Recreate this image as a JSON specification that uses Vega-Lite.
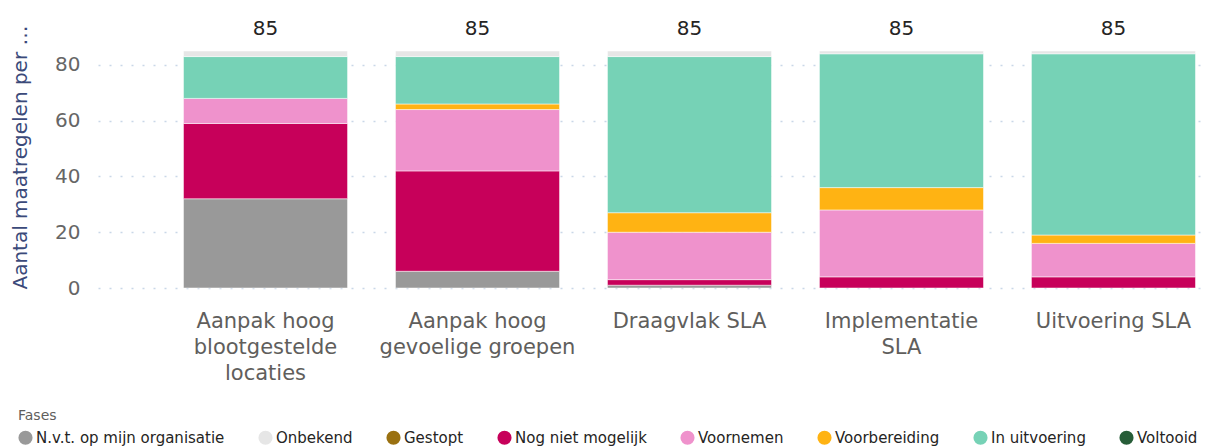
{
  "$schema": "https://vega.github.io/schema/vega-lite/v6.json",
  "width": 1107,
  "height": 237,
  "autosize": "none",
  "padding": {"left": 98, "top": 51, "right": 0, "bottom": 158},
  "background": "white",
  "config": {
    "view": {"stroke": null},
    "font": "DejaVu Sans"
  },
  "data": {
    "values": [
      {"categorie": "Aanpak hoog blootgestelde locaties", "fase": "N.v.t. op mijn organisatie", "aantal": 32},
      {"categorie": "Aanpak hoog blootgestelde locaties", "fase": "Nog niet mogelijk", "aantal": 27},
      {"categorie": "Aanpak hoog blootgestelde locaties", "fase": "Voornemen", "aantal": 9},
      {"categorie": "Aanpak hoog blootgestelde locaties", "fase": "In uitvoering", "aantal": 15},
      {"categorie": "Aanpak hoog blootgestelde locaties", "fase": "Onbekend", "aantal": 2},
      {"categorie": "Aanpak hoog gevoelige groepen", "fase": "N.v.t. op mijn organisatie", "aantal": 6},
      {"categorie": "Aanpak hoog gevoelige groepen", "fase": "Nog niet mogelijk", "aantal": 36},
      {"categorie": "Aanpak hoog gevoelige groepen", "fase": "Voornemen", "aantal": 22},
      {"categorie": "Aanpak hoog gevoelige groepen", "fase": "Voorbereiding", "aantal": 2},
      {"categorie": "Aanpak hoog gevoelige groepen", "fase": "In uitvoering", "aantal": 17},
      {"categorie": "Aanpak hoog gevoelige groepen", "fase": "Onbekend", "aantal": 2},
      {"categorie": "Draagvlak SLA", "fase": "N.v.t. op mijn organisatie", "aantal": 1},
      {"categorie": "Draagvlak SLA", "fase": "Nog niet mogelijk", "aantal": 2},
      {"categorie": "Draagvlak SLA", "fase": "Voornemen", "aantal": 17},
      {"categorie": "Draagvlak SLA", "fase": "Voorbereiding", "aantal": 7},
      {"categorie": "Draagvlak SLA", "fase": "In uitvoering", "aantal": 56},
      {"categorie": "Draagvlak SLA", "fase": "Onbekend", "aantal": 2},
      {"categorie": "Implementatie SLA", "fase": "Nog niet mogelijk", "aantal": 4},
      {"categorie": "Implementatie SLA", "fase": "Voornemen", "aantal": 24},
      {"categorie": "Implementatie SLA", "fase": "Voorbereiding", "aantal": 8},
      {"categorie": "Implementatie SLA", "fase": "In uitvoering", "aantal": 48},
      {"categorie": "Implementatie SLA", "fase": "Onbekend", "aantal": 1},
      {"categorie": "Uitvoering SLA", "fase": "Nog niet mogelijk", "aantal": 4},
      {"categorie": "Uitvoering SLA", "fase": "Voornemen", "aantal": 12},
      {"categorie": "Uitvoering SLA", "fase": "Voorbereiding", "aantal": 3},
      {"categorie": "Uitvoering SLA", "fase": "In uitvoering", "aantal": 65},
      {"categorie": "Uitvoering SLA", "fase": "Onbekend", "aantal": 1}
    ]
  },
  "encoding": {
    "x": {
      "field": "categorie",
      "type": "nominal",
      "sort": null,
      "scale": {"paddingInner": 0.226, "paddingOuter": 0.224, "align": 0.9},
      "axis": {
        "title": null,
        "domain": false,
        "ticks": false,
        "labelAngle": 0,
        "labelFont": "DejaVu Sans",
        "labelFontSize": 21,
        "labelColor": "#605E5C",
        "labelPadding": 22,
        "labelLineHeight": 26,
        "labelLimit": 400,
        "labelExpr": "datum.value == 'Aanpak hoog blootgestelde locaties' ? ['Aanpak hoog', 'blootgestelde', 'locaties'] : datum.value == 'Aanpak hoog gevoelige groepen' ? ['Aanpak hoog', 'gevoelige groepen'] : datum.value == 'Implementatie SLA' ? ['Implementatie', 'SLA'] : datum.value"
      }
    }
  },
  "layer": [
    {
      "transform": [
        {"calculate": "indexof(['N.v.t. op mijn organisatie', 'Gestopt', 'Nog niet mogelijk', 'Voornemen', 'Voorbereiding', 'In uitvoering', 'Voltooid', 'Onbekend'], datum.fase)", "as": "stapelvolgorde"}
      ],
      "mark": {"type": "bar", "stroke": "#ffffff", "strokeWidth": 1, "strokeOpacity": 0.5},
      "encoding": {
        "y": {
          "field": "aantal",
          "type": "quantitative",
          "aggregate": "sum",
          "stack": "zero",
          "scale": {"domain": [0, 85], "nice": false},
          "axis": {
            "title": "Aantal maatregelen per …",
            "titleFont": "DejaVu Sans",
            "titleFontSize": 20,
            "titleFontWeight": "normal",
            "titleColor": "#3B4A7A",
            "titleX": -78,
            "titleY": 106,
            "titleBaseline": "middle",
            "titleAngle": -90,
            "values": [0, 20, 40, 60, 80],
            "domain": false,
            "ticks": false,
            "labelFont": "DejaVu Sans",
            "labelFontSize": 20,
            "labelColor": "#666666",
            "labelPadding": 18,
            "grid": true,
            "gridColor": "#C9D7E8",
            "gridDash": [2, 9],
            "gridWidth": 1.5
          }
        },
        "color": {
          "field": "fase",
          "type": "nominal",
          "scale": {
            "domain": ["N.v.t. op mijn organisatie", "Onbekend", "Gestopt", "Nog niet mogelijk", "Voornemen", "Voorbereiding", "In uitvoering", "Voltooid"],
            "range": ["#999999", "#E6E6E6", "#9A7111", "#C7005A", "#EF92CC", "#FFB313", "#76D2B6", "#275D38"]
          },
          "legend": {
            "title": "Fases",
            "orient": "none",
            "legendX": -80,
            "legendY": 358,
            "direction": "horizontal",
            "titleFont": "DejaVu Sans",
            "titleFontSize": 14,
            "titleFontWeight": "normal",
            "titleColor": "#605E5C",
            "titlePadding": 7,
            "labelFont": "DejaVu Sans",
            "labelFontSize": 15,
            "labelColor": "#252423",
            "labelLimit": 300,
            "labelOffset": 3,
            "symbolType": "circle",
            "symbolSize": 200,
            "symbolStrokeWidth": 0,
            "columnPadding": 33
          }
        },
        "order": {"field": "stapelvolgorde", "type": "quantitative", "sort": "ascending"}
      }
    },
    {
      "transform": [
        {"aggregate": [{"op": "sum", "field": "aantal", "as": "totaal"}], "groupby": ["categorie"]}
      ],
      "mark": {"type": "text", "baseline": "bottom", "dy": -12, "fontSize": 20, "font": "DejaVu Sans", "color": "#252423"},
      "encoding": {
        "y": {"field": "totaal", "type": "quantitative"},
        "text": {"field": "totaal", "type": "quantitative"}
      }
    }
  ]
}
